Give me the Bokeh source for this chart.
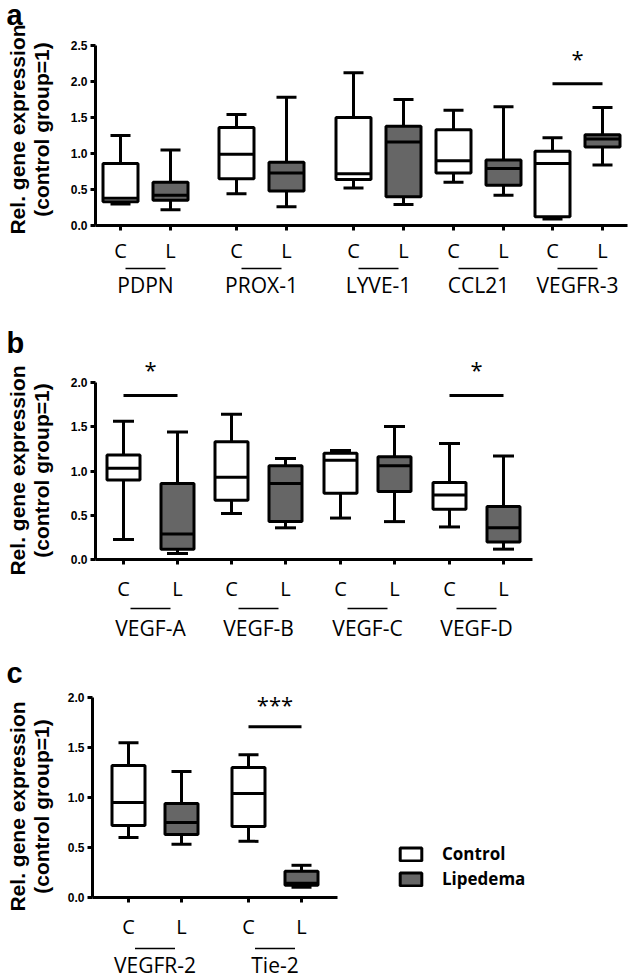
import math
from bokeh.plotting import figure
from bokeh.layouts import column
from bokeh.models import Range1d, FixedTicker, NumeralTickFormatter, Legend, LegendItem
from bokeh.core.properties import value
from bokeh.embed import file_html
from bokeh.resources import INLINE

# ---------------- data ----------------
# panel a
a_genes = ["PDPN", "PROX-1", "LYVE-1", "CCL21", "VEGFR-3"]
a_ctrl_min = [0.30, 0.44, 0.52, 0.60, 0.09]
a_ctrl_q1 = [0.33, 0.65, 0.64, 0.73, 0.12]
a_ctrl_med = [0.38, 0.99, 0.72, 0.90, 0.86]
a_ctrl_q3 = [0.86, 1.36, 1.50, 1.33, 1.03]
a_ctrl_max = [1.25, 1.54, 2.12, 1.60, 1.22]
a_lip_min = [0.22, 0.26, 0.29, 0.42, 0.84]
a_lip_q1 = [0.35, 0.48, 0.40, 0.56, 1.09]
a_lip_med = [0.42, 0.73, 1.16, 0.79, 1.20]
a_lip_q3 = [0.60, 0.88, 1.38, 0.91, 1.26]
a_lip_max = [1.05, 1.78, 1.75, 1.65, 1.64]
a_sig_genes = ["VEGFR-3"]
a_sig_text = ["*"]
a_sig_level = [1.97]
a_yticks = [0.0, 0.5, 1.0, 1.5, 2.0, 2.5]

# panel b
b_genes = ["VEGF-A", "VEGF-B", "VEGF-C", "VEGF-D"]
b_ctrl_min = [0.23, 0.52, 0.47, 0.37]
b_ctrl_q1 = [0.90, 0.67, 0.75, 0.57]
b_ctrl_med = [1.03, 0.93, 1.12, 0.73]
b_ctrl_q3 = [1.18, 1.33, 1.20, 0.87]
b_ctrl_max = [1.56, 1.64, 1.23, 1.31]
b_lip_min = [0.07, 0.36, 0.43, 0.12]
b_lip_q1 = [0.12, 0.43, 0.77, 0.20]
b_lip_med = [0.29, 0.86, 1.06, 0.36]
b_lip_q3 = [0.86, 1.06, 1.16, 0.60]
b_lip_max = [1.44, 1.14, 1.50, 1.17]
b_sig_genes = ["VEGF-A", "VEGF-D"]
b_sig_text = ["*", "*"]
b_sig_level = [1.85, 1.85]
b_yticks = [0.0, 0.5, 1.0, 1.5, 2.0]

# panel c
c_genes = ["VEGFR-2", "Tie-2"]
c_ctrl_min = [0.60, 0.56]
c_ctrl_q1 = [0.72, 0.71]
c_ctrl_med = [0.95, 1.04]
c_ctrl_q3 = [1.32, 1.30]
c_ctrl_max = [1.55, 1.43]
c_lip_min = [0.53, 0.10]
c_lip_q1 = [0.63, 0.12]
c_lip_med = [0.75, 0.14]
c_lip_q3 = [0.94, 0.26]
c_lip_max = [1.26, 0.32]
c_sig_genes = ["Tie-2"]
c_sig_text = ["***"]
c_sig_level = [1.71]
c_yticks = [0.0, 0.5, 1.0, 1.5, 2.0]

group_labels = ["Control", "Lipedema"]
pair_labels = ["C", "L"]
y_title = ["Rel. gene expression", "(control group=1)"]

# ---------------- layout / style ----------------
W = 630
LIP_FILL = "#666666"
BOLD_SANS = "Liberation Sans"
LABEL_FONT = "Open Sans"


def build(letter, genes, ctrl, lip, sig, yticks, L):
    top, H, y0, ppu = L["top"], L["height"], L["y0"], L["ppu"]

    def dy(py):
        return (y0 - py) / ppu

    p = figure(width=W, height=H, x_range=Range1d(0, W),
               y_range=Range1d(dy(top + H), dy(top)),
               output_backend="svg", toolbar_location=None, min_border=0)
    p.outline_line_color = None
    p.grid.visible = False

    cx = L["cpos"]
    lx = [c + L["pair"] for c in cx]
    bw, cw = L["box_w"], L["cap_w"]
    renderers = []
    for xs, st, fill in ((cx, ctrl, "white"), (lx, lip, LIP_FILL)):
        mn, q1, md, q3, mx = st
        p.segment(x0=xs, y0=q3, x1=xs, y1=mx, line_color="black", line_width=3)
        p.segment(x0=xs, y0=q1, x1=xs, y1=mn, line_color="black", line_width=3)
        p.segment(x0=[x - cw / 2 for x in xs], y0=mx, x1=[x + cw / 2 for x in xs], y1=mx,
                  line_color="black", line_width=3)
        p.segment(x0=[x - cw / 2 for x in xs], y0=mn, x1=[x + cw / 2 for x in xs], y1=mn,
                  line_color="black", line_width=3)
        r = p.vbar(x=xs, width=bw, bottom=q1, top=q3, fill_color=fill,
                   line_color="black", line_width=3)
        renderers.append(r)
        p.segment(x0=[x - bw / 2 for x in xs], y0=md, x1=[x + bw / 2 for x in xs], y1=md,
                  line_color="black", line_width=3)

    # axes
    p.xaxis.fixed_location = 0
    p.xaxis.bounds = (L["axis_x"], L["axis_end"])
    ticks = sorted(cx + lx)
    p.xaxis.ticker = FixedTicker(ticks=ticks)
    ov = {}
    for c, l in zip(cx, lx):
        ov[c] = pair_labels[0]
        ov[l] = pair_labels[1]
    p.xaxis.major_label_overrides = ov
    p.xaxis.major_label_text_font = LABEL_FONT
    p.xaxis.major_label_text_font_size = "20px"
    p.xaxis.major_label_standoff = L["xstand"]

    p.yaxis.fixed_location = L["axis_x"]
    p.yaxis.bounds = (0, yticks[-1])
    p.yaxis.ticker = FixedTicker(ticks=yticks)
    p.yaxis.formatter = NumeralTickFormatter(format="0.0")
    p.yaxis.major_label_text_font = BOLD_SANS
    p.yaxis.major_label_text_font_style = "bold"
    p.yaxis.major_label_text_font_size = "12px"
    p.yaxis.major_label_standoff = 3

    for ax in (p.xaxis, p.yaxis):
        ax.axis_line_width = 3
        ax.axis_line_color = "black"
        ax.major_tick_line_width = 3
        ax.major_tick_line_color = "black"
        ax.major_tick_out = 5
        ax.major_tick_in = 0
        ax.minor_tick_line_color = None
        ax.major_label_text_color = "black"

    # group underlines and names
    mids = [(c + l) / 2 for c, l in zip(cx, lx)]
    p.segment(x0=[m - 20 for m in mids], y0=dy(L["uline"]), x1=[m + 20 for m in mids],
              y1=dy(L["uline"]), line_color="black", line_width=1.5)
    p.text(x=mids, y=[dy(L["gname"])] * len(mids), text=genes,
           text_font=value(LABEL_FONT), text_font_size="21px",
           text_align="center", text_baseline="middle", text_color="black")

    # significance
    sg, stx, slv = sig
    for g, t, lv in zip(sg, stx, slv):
        i = genes.index(g)
        p.segment(x0=[cx[i]], y0=[lv], x1=[lx[i]], y1=[lv], line_color="black", line_width=3)
        by = y0 - lv * ppu
        p.text(x=[(cx[i] + lx[i]) / 2], y=[dy(by - L["ast_off"])], text=[t],
               text_font=value(LABEL_FONT), text_font_size="22px",
               text_align="center", text_baseline="alphabetic", text_color="black")

    # y title (two lines) and panel letter
    p.text(x=[17, 41], y=[dy(L["ytc"])] * 2, text=y_title, angle=math.pi / 2,
           text_font=value(BOLD_SANS), text_font_style="bold", text_font_size="21px",
           text_align="center", text_baseline="middle", text_color="black")
    p.text(x=[6], y=[dy(L["letter_base"])], text=[letter],
           text_font=value(BOLD_SANS), text_font_style="bold", text_font_size="29px",
           text_align="left", text_baseline="alphabetic", text_color="black")
    return p, renderers


LA = dict(top=0, height=300, y0=225.0, ppu=72.0, axis_x=95, axis_end=627,
          cpos=[120, 236, 353, 453, 552], pair=50, box_w=35, cap_w=20,
          xstand=6, uline=268, gname=284, ast_off=26, ytc=129, letter_base=14)
LB = dict(top=300, height=348, y0=559.3, ppu=88.8, axis_x=95, axis_end=532,
          cpos=[123, 231, 340, 449], pair=54, box_w=33, cap_w=21,
          xstand=10, uline=608, gname=627, ast_off=27, ytc=470, letter_base=342)
LC = dict(top=648, height=331, y0=896.7, ppu=99.7, axis_x=92, axis_end=337,
          cpos=[128, 248], pair=53, box_w=33, cap_w=20,
          xstand=11, uline=948, gname=964, ast_off=23, ytc=806, letter_base=672)

pa, _ = build("a", a_genes,
              (a_ctrl_min, a_ctrl_q1, a_ctrl_med, a_ctrl_q3, a_ctrl_max),
              (a_lip_min, a_lip_q1, a_lip_med, a_lip_q3, a_lip_max),
              (a_sig_genes, a_sig_text, a_sig_level), a_yticks, LA)
pb, _ = build("b", b_genes,
              (b_ctrl_min, b_ctrl_q1, b_ctrl_med, b_ctrl_q3, b_ctrl_max),
              (b_lip_min, b_lip_q1, b_lip_med, b_lip_q3, b_lip_max),
              (b_sig_genes, b_sig_text, b_sig_level), b_yticks, LB)
pc, rc = build("c", c_genes,
               (c_ctrl_min, c_ctrl_q1, c_ctrl_med, c_ctrl_q3, c_ctrl_max),
               (c_lip_min, c_lip_q1, c_lip_med, c_lip_q3, c_lip_max),
               (c_sig_genes, c_sig_text, c_sig_level), c_yticks, LC)

legend = Legend(items=[LegendItem(label=group_labels[0], renderers=[rc[0]]),
                       LegendItem(label=group_labels[1], renderers=[rc[1]])],
                location=(397, 89), orientation="vertical",
                glyph_width=27, glyph_height=16, label_standoff=18,
                label_height=16, spacing=2, padding=0, margin=0,
                border_line_color=None, background_fill_alpha=0,
                label_text_font=LABEL_FONT, label_text_font_style="bold",
                label_text_font_size="17px", label_text_color="black")
pc.add_layout(legend)

layout = column(pa, pb, pc, spacing=0)
open("out.html", "w").write(file_html(layout, INLINE))
